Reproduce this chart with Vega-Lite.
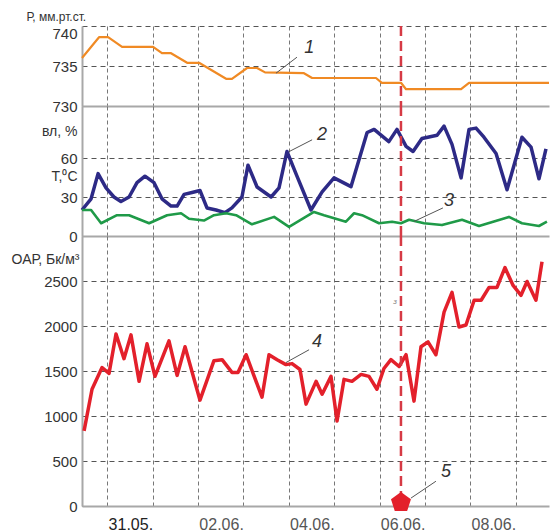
{
  "$schema": "https://vega.github.io/schema/vega-lite/v6.json",
  "padding": {"left": 11, "top": 10, "right": 0, "bottom": 0},
  "spacing": 0,
  "bounds": "flush",
  "config": {
    "view": {"stroke": null},
    "font": "Liberation Sans",
    "axis": {"labelFont": "Liberation Sans", "titleFont": "Liberation Sans"}
  },
  "datasets": {
    "pressure": [
      {"t": "2013-05-30T10:36", "p": 736.0},
      {"t": "2013-05-30T19:36", "p": 738.6},
      {"t": "2013-05-31T00:24", "p": 738.6},
      {"t": "2013-05-31T07:48", "p": 737.4},
      {"t": "2013-06-01T00:12", "p": 737.4},
      {"t": "2013-06-01T04:54", "p": 736.6},
      {"t": "2013-06-01T09:42", "p": 736.6},
      {"t": "2013-06-01T18:12", "p": 735.4},
      {"t": "2013-06-02T00:30", "p": 735.4},
      {"t": "2013-06-02T14:48", "p": 733.4},
      {"t": "2013-06-02T17:54", "p": 733.4},
      {"t": "2013-06-03T01:54", "p": 734.75},
      {"t": "2013-06-03T07:12", "p": 734.75},
      {"t": "2013-06-03T11:24", "p": 734.2},
      {"t": "2013-06-04T08:00", "p": 734.1},
      {"t": "2013-06-04T12:18", "p": 733.5},
      {"t": "2013-06-05T22:06", "p": 733.5},
      {"t": "2013-06-06T01:12", "p": 732.9},
      {"t": "2013-06-06T11:18", "p": 732.9},
      {"t": "2013-06-06T14:00", "p": 732.1},
      {"t": "2013-06-07T19:06", "p": 732.1},
      {"t": "2013-06-07T23:18", "p": 732.9},
      {"t": "2013-06-09T17:36", "p": 732.9}
    ],
    "humidity": [
      {"t": "2013-05-30T10:36", "h": 20},
      {"t": "2013-05-30T15:24", "h": 28.6},
      {"t": "2013-05-30T19:06", "h": 48},
      {"t": "2013-05-30T23:18", "h": 37},
      {"t": "2013-05-31T03:30", "h": 30},
      {"t": "2013-05-31T07:12", "h": 26.5},
      {"t": "2013-05-31T11:30", "h": 30},
      {"t": "2013-05-31T15:42", "h": 41},
      {"t": "2013-05-31T19:54", "h": 46},
      {"t": "2013-06-01T00:42", "h": 41},
      {"t": "2013-06-01T04:54", "h": 28.6},
      {"t": "2013-06-01T09:42", "h": 23},
      {"t": "2013-06-01T12:54", "h": 23},
      {"t": "2013-06-01T16:36", "h": 32},
      {"t": "2013-06-01T20:48", "h": 33.5},
      {"t": "2013-06-02T01:00", "h": 35},
      {"t": "2013-06-02T04:42", "h": 21.6},
      {"t": "2013-06-02T09:30", "h": 20},
      {"t": "2013-06-02T14:12", "h": 18},
      {"t": "2013-06-02T17:54", "h": 21.6},
      {"t": "2013-06-02T23:12", "h": 30},
      {"t": "2013-06-03T02:24", "h": 54.5},
      {"t": "2013-06-03T07:12", "h": 37.7},
      {"t": "2013-06-03T14:36", "h": 30},
      {"t": "2013-06-03T18:48", "h": 37},
      {"t": "2013-06-03T23:00", "h": 65},
      {"t": "2013-06-04T04:18", "h": 46},
      {"t": "2013-06-04T11:42", "h": 20},
      {"t": "2013-06-04T17:36", "h": 34},
      {"t": "2013-06-04T23:54", "h": 44.7},
      {"t": "2013-06-05T08:54", "h": 38},
      {"t": "2013-06-05T17:24", "h": 79.6},
      {"t": "2013-06-05T21:06", "h": 82},
      {"t": "2013-06-06T04:54", "h": 72.6},
      {"t": "2013-06-06T09:12", "h": 82},
      {"t": "2013-06-06T14:00", "h": 69},
      {"t": "2013-06-06T17:42", "h": 65},
      {"t": "2013-06-06T22:24", "h": 75},
      {"t": "2013-06-07T06:24", "h": 77.5},
      {"t": "2013-06-07T10:06", "h": 84.5},
      {"t": "2013-06-07T14:18", "h": 70.5},
      {"t": "2013-06-07T19:06", "h": 44.7},
      {"t": "2013-06-07T23:18", "h": 82},
      {"t": "2013-06-08T03:00", "h": 83},
      {"t": "2013-06-08T07:12", "h": 76},
      {"t": "2013-06-08T13:36", "h": 63.5},
      {"t": "2013-06-08T19:24", "h": 35.6},
      {"t": "2013-06-09T03:18", "h": 76},
      {"t": "2013-06-09T08:06", "h": 68.4},
      {"t": "2013-06-09T12:18", "h": 44},
      {"t": "2013-06-09T16:00", "h": 67}
    ],
    "temperature": [
      {"t": "2013-05-30T10:36", "T": 20},
      {"t": "2013-05-30T15:24", "T": 20},
      {"t": "2013-05-30T20:42", "T": 9.8},
      {"t": "2013-05-31T05:06", "T": 16},
      {"t": "2013-05-31T11:30", "T": 16},
      {"t": "2013-05-31T22:06", "T": 9.8},
      {"t": "2013-06-01T07:36", "T": 16},
      {"t": "2013-06-01T15:00", "T": 17.5},
      {"t": "2013-06-01T19:12", "T": 13.3},
      {"t": "2013-06-02T03:06", "T": 11.9},
      {"t": "2013-06-02T08:24", "T": 16},
      {"t": "2013-06-02T14:48", "T": 17.5},
      {"t": "2013-06-02T20:06", "T": 16},
      {"t": "2013-06-03T04:30", "T": 9},
      {"t": "2013-06-03T16:12", "T": 14.7},
      {"t": "2013-06-04T00:06", "T": 7},
      {"t": "2013-06-04T13:18", "T": 18.5},
      {"t": "2013-06-04T18:36", "T": 16},
      {"t": "2013-06-05T06:12", "T": 11},
      {"t": "2013-06-05T10:30", "T": 17.5},
      {"t": "2013-06-05T14:42", "T": 16},
      {"t": "2013-06-05T23:42", "T": 9.8},
      {"t": "2013-06-06T06:36", "T": 11},
      {"t": "2013-06-06T11:18", "T": 9.8},
      {"t": "2013-06-06T15:36", "T": 12.5},
      {"t": "2013-06-06T23:30", "T": 9.8},
      {"t": "2013-06-07T09:00", "T": 8.4},
      {"t": "2013-06-07T19:36", "T": 12.5},
      {"t": "2013-06-08T04:36", "T": 7.7},
      {"t": "2013-06-08T20:24", "T": 14.7},
      {"t": "2013-06-09T03:18", "T": 9.8},
      {"t": "2013-06-09T12:18", "T": 7.7},
      {"t": "2013-06-09T16:30", "T": 11}
    ],
    "oap": [
      {"t": "2013-05-30T11:42", "oap": 835},
      {"t": "2013-05-30T15:54", "oap": 1297},
      {"t": "2013-05-30T21:12", "oap": 1539},
      {"t": "2013-05-31T00:54", "oap": 1473},
      {"t": "2013-05-31T04:36", "oap": 1912},
      {"t": "2013-05-31T08:48", "oap": 1637},
      {"t": "2013-05-31T12:30", "oap": 1901},
      {"t": "2013-05-31T16:48", "oap": 1385},
      {"t": "2013-05-31T21:00", "oap": 1802},
      {"t": "2013-06-01T01:12", "oap": 1440},
      {"t": "2013-06-01T08:36", "oap": 1835},
      {"t": "2013-06-01T12:54", "oap": 1451},
      {"t": "2013-06-01T17:06", "oap": 1769},
      {"t": "2013-06-02T01:00", "oap": 1176},
      {"t": "2013-06-02T08:24", "oap": 1615},
      {"t": "2013-06-02T12:42", "oap": 1626},
      {"t": "2013-06-02T17:54", "oap": 1484},
      {"t": "2013-06-02T21:06", "oap": 1484},
      {"t": "2013-06-03T01:24", "oap": 1681},
      {"t": "2013-06-03T09:48", "oap": 1209},
      {"t": "2013-06-03T13:30", "oap": 1681},
      {"t": "2013-06-03T17:48", "oap": 1626},
      {"t": "2013-06-03T22:30", "oap": 1571},
      {"t": "2013-06-04T01:42", "oap": 1582},
      {"t": "2013-06-04T05:54", "oap": 1517},
      {"t": "2013-06-04T09:06", "oap": 1132},
      {"t": "2013-06-04T14:24", "oap": 1385},
      {"t": "2013-06-04T17:36", "oap": 1242},
      {"t": "2013-06-04T22:18", "oap": 1440},
      {"t": "2013-06-05T01:30", "oap": 945},
      {"t": "2013-06-05T05:12", "oap": 1407},
      {"t": "2013-06-05T09:24", "oap": 1385},
      {"t": "2013-06-05T14:12", "oap": 1462},
      {"t": "2013-06-05T18:24", "oap": 1440},
      {"t": "2013-06-05T22:36", "oap": 1297},
      {"t": "2013-06-06T02:18", "oap": 1528},
      {"t": "2013-06-06T06:00", "oap": 1626},
      {"t": "2013-06-06T10:18", "oap": 1550},
      {"t": "2013-06-06T14:00", "oap": 1681},
      {"t": "2013-06-06T18:12", "oap": 1165},
      {"t": "2013-06-06T21:54", "oap": 1769},
      {"t": "2013-06-07T01:36", "oap": 1824},
      {"t": "2013-06-07T05:48", "oap": 1681},
      {"t": "2013-06-07T10:06", "oap": 2154},
      {"t": "2013-06-07T14:18", "oap": 2374},
      {"t": "2013-06-07T18:00", "oap": 1989},
      {"t": "2013-06-07T21:42", "oap": 2011},
      {"t": "2013-06-08T02:00", "oap": 2286},
      {"t": "2013-06-08T05:42", "oap": 2286},
      {"t": "2013-06-08T09:54", "oap": 2429},
      {"t": "2013-06-08T14:06", "oap": 2429},
      {"t": "2013-06-08T18:18", "oap": 2649},
      {"t": "2013-06-08T22:36", "oap": 2451},
      {"t": "2013-06-09T02:48", "oap": 2341},
      {"t": "2013-06-09T06:00", "oap": 2495},
      {"t": "2013-06-09T10:42", "oap": 2286},
      {"t": "2013-06-09T13:54", "oap": 2715}
    ],
    "event": [{"t": "2013-06-06T11:18", "oap": 38}],
    "labels": [
      {"panel": 1, "t": "2013-06-04T10:48", "v": 737.3, "txt": "1"},
      {"panel": 2, "t": "2013-06-04T17:30", "v": 77.5, "txt": "2"},
      {"panel": 2, "t": "2013-06-07T12:42", "v": 27.2, "txt": "3"},
      {"panel": 3, "t": "2013-06-04T14:54", "v": 1824, "txt": "4"},
      {"panel": 3, "t": "2013-06-07T11:06", "v": 374, "txt": "5"}
    ],
    "mini": [{"t": "2013-06-06T08:12", "v": 2264, "txt": "з"}],
    "leaders": [
      {"panel": 1, "t1": "2013-06-03T17:12", "v1": 734.1, "t2": "2013-06-04T04:18", "v2": 736.1},
      {"panel": 2, "t1": "2013-06-04T00:06", "v1": 64.9, "t2": "2013-06-04T12:18", "v2": 74},
      {"panel": 2, "t1": "2013-06-06T18:12", "v1": 11.2, "t2": "2013-06-07T09:30", "v2": 21.6},
      {"panel": 3, "t1": "2013-06-03T22:30", "v1": 1594, "t2": "2013-06-04T10:42", "v2": 1736},
      {"panel": 3, "t1": "2013-06-06T16:36", "v1": 88, "t2": "2013-06-07T05:48", "v2": 275}
    ]
  },
  "vconcat": [
    {
      "width": 467,
      "height": 80,
      "layer": [
        {
          "data": {"name": "pressure"},
          "mark": {"type": "line", "color": "#f08a24", "strokeWidth": 2.2, "strokeJoin": "round"},
          "encoding": {
            "x": {
              "field": "t", "type": "temporal",
              "scale": {"domain": [{"year": 2013, "month": 5, "date": 30, "hours": 10, "minutes": 36}, {"year": 2013, "month": 6, "date": 9, "hours": 17, "minutes": 36}]},
              "axis": {
                "title": null, "labels": false, "ticks": false, "domain": true, "domainColor": "#a8a8a8", "domainWidth": 2,
                "grid": true, "gridColor": "#777", "gridDash": [4, 3], "gridWidth": 1, "tickCount": 30,
                "values": [
                  {"year": 2013, "month": 5, "date": 31}, {"year": 2013, "month": 6, "date": 1}, {"year": 2013, "month": 6, "date": 2},
                  {"year": 2013, "month": 6, "date": 3}, {"year": 2013, "month": 6, "date": 4}, {"year": 2013, "month": 6, "date": 5},
                  {"year": 2013, "month": 6, "date": 6}, {"year": 2013, "month": 6, "date": 7}, {"year": 2013, "month": 6, "date": 8},
                  {"year": 2013, "month": 6, "date": 9}
                ]
              }
            },
            "y": {
              "field": "p", "type": "quantitative",
              "scale": {"domain": [730, 740], "zero": false, "nice": false},
              "axis": {
                "values": [730, 735, 740], "format": "d", "tickCount": 10,
                "title": "Р, мм.рт.ст.", "titleAngle": 0, "titleAlign": "left", "titleBaseline": "middle",
                "titleX": -56, "titleY": -10, "titleFontSize": 12, "titleFontWeight": "normal", "titleColor": "#333",
                "labelFontSize": 15, "labelColor": "#333", "labelPadding": 5, "ticks": false,
                "domainColor": "#a8a8a8", "domainWidth": 2,
                "gridColor": "#555", "gridDash": [5, 4], "gridWidth": 1,
                "labelOffset": {"condition": {"test": "datum.value == 740", "value": 7}, "value": 0}
              }
            }
          }
        },
        {
          "data": {"name": "event"},
          "mark": {"type": "rule", "color": "#d63a45", "strokeWidth": 2.5, "strokeDash": [10, 5]},
          "encoding": {"x": {"field": "t", "type": "temporal"}}
        },
        {
          "data": {"name": "leaders"},
          "transform": [{"filter": "datum.panel == 1"}],
          "mark": {"type": "rule", "color": "#555", "strokeWidth": 1},
          "encoding": {
            "x": {"field": "t1", "type": "temporal"}, "x2": {"field": "t2"},
            "y": {"field": "v1", "type": "quantitative"}, "y2": {"field": "v2"}
          }
        },
        {
          "data": {"name": "labels"},
          "transform": [{"filter": "datum.panel == 1"}],
          "mark": {"type": "text", "fontSize": 18, "fontStyle": "italic", "color": "#333"},
          "encoding": {
            "x": {"field": "t", "type": "temporal"},
            "y": {"field": "v", "type": "quantitative"},
            "text": {"field": "txt"}
          }
        }
      ]
    },
    {
      "width": 467,
      "height": 130,
      "layer": [
        {
          "data": {"name": "humidity"},
          "mark": {"type": "line", "color": "#2d2a86", "strokeWidth": 3.5, "strokeJoin": "round"},
          "encoding": {
            "x": {
              "field": "t", "type": "temporal",
              "scale": {"domain": [{"year": 2013, "month": 5, "date": 30, "hours": 10, "minutes": 36}, {"year": 2013, "month": 6, "date": 9, "hours": 17, "minutes": 36}]},
              "axis": {
                "title": null, "labels": false, "ticks": false, "domain": true, "domainColor": "#a8a8a8", "domainWidth": 2,
                "grid": true, "gridColor": "#777", "gridDash": [4, 3], "gridWidth": 1, "tickCount": 30,
                "values": [
                  {"year": 2013, "month": 5, "date": 31}, {"year": 2013, "month": 6, "date": 1}, {"year": 2013, "month": 6, "date": 2},
                  {"year": 2013, "month": 6, "date": 3}, {"year": 2013, "month": 6, "date": 4}, {"year": 2013, "month": 6, "date": 5},
                  {"year": 2013, "month": 6, "date": 6}, {"year": 2013, "month": 6, "date": 7}, {"year": 2013, "month": 6, "date": 8},
                  {"year": 2013, "month": 6, "date": 9}
                ]
              }
            },
            "y": {
              "field": "h", "type": "quantitative",
              "scale": {"domain": [0, 90.7]},
              "axis": {
                "values": [0, 30, 60], "tickCount": 10,
                "title": ["вл, %", "Т,⁰С"], "titleAngle": 0, "titleAlign": "right", "titleBaseline": "top",
                "titleX": -5, "titleY": 18, "titleLineHeight": 45, "titleFontSize": 14, "titleFontWeight": "normal", "titleColor": "#333",
                "labelFontSize": 15, "labelColor": "#333", "labelPadding": 5, "ticks": false,
                "domainColor": "#a8a8a8", "domainWidth": 2,
                "gridColor": "#555", "gridDash": [5, 4], "gridWidth": 1
              }
            }
          }
        },
        {
          "data": {"name": "temperature"},
          "mark": {"type": "line", "color": "#1f9a48", "strokeWidth": 2.6, "strokeJoin": "round"},
          "encoding": {
            "x": {"field": "t", "type": "temporal"},
            "y": {"field": "T", "type": "quantitative"}
          }
        },
        {
          "data": {"name": "event"},
          "mark": {"type": "rule", "color": "#d63a45", "strokeWidth": 2.5, "strokeDash": [10, 5]},
          "encoding": {"x": {"field": "t", "type": "temporal"}}
        },
        {
          "data": {"name": "leaders"},
          "transform": [{"filter": "datum.panel == 2"}],
          "mark": {"type": "rule", "color": "#555", "strokeWidth": 1},
          "encoding": {
            "x": {"field": "t1", "type": "temporal"}, "x2": {"field": "t2"},
            "y": {"field": "v1", "type": "quantitative"}, "y2": {"field": "v2"}
          }
        },
        {
          "data": {"name": "labels"},
          "transform": [{"filter": "datum.panel == 2"}],
          "mark": {"type": "text", "fontSize": 18, "fontStyle": "italic", "color": "#333"},
          "encoding": {
            "x": {"field": "t", "type": "temporal"},
            "y": {"field": "v", "type": "quantitative"},
            "text": {"field": "txt"}
          }
        }
      ]
    },
    {
      "width": 467,
      "height": 270,
      "layer": [
        {
          "data": {"name": "oap"},
          "mark": {"type": "line", "color": "#e3202b", "strokeWidth": 3.5, "strokeJoin": "round"},
          "encoding": {
            "x": {
              "field": "t", "type": "temporal",
              "scale": {"domain": [{"year": 2013, "month": 5, "date": 30, "hours": 10, "minutes": 36}, {"year": 2013, "month": 6, "date": 9, "hours": 17, "minutes": 36}]},
              "axis": {
                "title": null, "ticks": false, "domain": true, "domainColor": "#a8a8a8", "domainWidth": 2,
                "grid": true, "gridColor": "#777", "gridDash": [4, 3], "gridWidth": 1, "tickCount": 30,
                "labelExpr": "(date(datum.value) == 31 || date(datum.value) % 2 == 0) && date(datum.value) != 30 ? timeFormat(datum.value, '%d.%m.') : ''",
                "labelFontSize": 16, "labelPadding": 10, "labelOffset": 23, "labelBound": false, "labelFlush": false,
                "labelColor": {"condition": {"test": "date(datum.value) == 31", "value": "#222"}, "value": "#555"},
                "values": [
                  {"year": 2013, "month": 5, "date": 31}, {"year": 2013, "month": 6, "date": 1}, {"year": 2013, "month": 6, "date": 2},
                  {"year": 2013, "month": 6, "date": 3}, {"year": 2013, "month": 6, "date": 4}, {"year": 2013, "month": 6, "date": 5},
                  {"year": 2013, "month": 6, "date": 6}, {"year": 2013, "month": 6, "date": 7}, {"year": 2013, "month": 6, "date": 8},
                  {"year": 2013, "month": 6, "date": 9}
                ]
              }
            },
            "y": {
              "field": "oap", "type": "quantitative",
              "scale": {"domain": [0, 2967]},
              "axis": {
                "values": [0, 500, 1000, 1500, 2000, 2500], "format": "d", "tickCount": 10,
                "title": "ОАР, Бк/м³", "titleAngle": 0, "titleAlign": "right", "titleBaseline": "middle",
                "titleX": -3, "titleY": 23, "titleFontSize": 14, "titleFontWeight": "normal", "titleColor": "#333",
                "labelFontSize": 15, "labelColor": "#333", "labelPadding": 5, "ticks": false,
                "domainColor": "#a8a8a8", "domainWidth": 2,
                "gridColor": "#555", "gridDash": [5, 4], "gridWidth": 1
              }
            }
          }
        },
        {
          "data": {"name": "event"},
          "mark": {"type": "rule", "color": "#d63a45", "strokeWidth": 2.5, "strokeDash": [10, 5]},
          "encoding": {"x": {"field": "t", "type": "temporal"}}
        },
        {
          "data": {"name": "event"},
          "mark": {"type": "point", "filled": true, "opacity": 1, "color": "#e3202b", "size": 441,
                   "shape": "M0,-1L0.951,-0.309L0.588,0.809L-0.588,0.809L-0.951,-0.309Z"},
          "encoding": {
            "x": {"field": "t", "type": "temporal"},
            "y": {"field": "oap", "type": "quantitative"}
          }
        },
        {
          "data": {"name": "leaders"},
          "transform": [{"filter": "datum.panel == 3"}],
          "mark": {"type": "rule", "color": "#555", "strokeWidth": 1},
          "encoding": {
            "x": {"field": "t1", "type": "temporal"}, "x2": {"field": "t2"},
            "y": {"field": "v1", "type": "quantitative"}, "y2": {"field": "v2"}
          }
        },
        {
          "data": {"name": "labels"},
          "transform": [{"filter": "datum.panel == 3"}],
          "mark": {"type": "text", "fontSize": 18, "fontStyle": "italic", "color": "#333"},
          "encoding": {
            "x": {"field": "t", "type": "temporal"},
            "y": {"field": "v", "type": "quantitative"},
            "text": {"field": "txt"}
          }
        },
        {
          "data": {"name": "mini"},
          "mark": {"type": "text", "fontSize": 8, "fontStyle": "italic", "color": "#888"},
          "encoding": {
            "x": {"field": "t", "type": "temporal"},
            "y": {"field": "v", "type": "quantitative"},
            "text": {"field": "txt"}
          }
        }
      ]
    }
  ]
}
